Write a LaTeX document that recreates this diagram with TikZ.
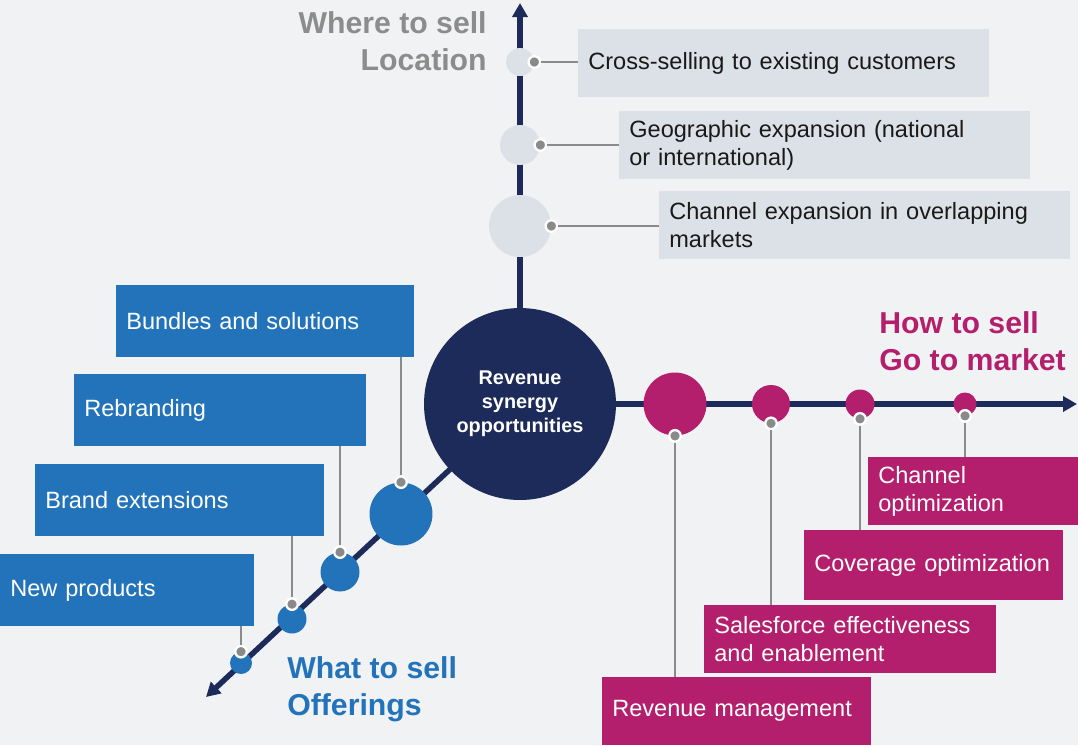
\documentclass[tikz,border=0pt]{standalone}
\usepackage{fontspec}
\setmainfont{Liberation Sans}
\usetikzlibrary{arrows.meta,positioning}

\definecolor{pagebg}{HTML}{F1F2F4}
\definecolor{axisnavy}{HTML}{1D2B5B}
\definecolor{offerblue}{HTML}{2273BA}
\definecolor{gtmpink}{HTML}{B31F6C}
\definecolor{placegray}{HTML}{DCE1E7}
\definecolor{leadgray}{HTML}{8A8A8A}
\definecolor{titlegray}{HTML}{8C8C8C}

\begin{document}
\begin{tikzpicture}[
  x=0.02cm, y=-0.02cm,
  font=\fontsize{13.4}{16}\selectfont,
  axisline/.style={draw=axisnavy, line width=0.11cm,
                   -{Triangle[length=0.28cm,width=0.3cm]}},
  ball/.style={circle, inner sep=0pt},
  whereball/.style={ball, fill=placegray},
  whatball/.style={ball, fill=offerblue},
  howball/.style={ball, fill=gtmpink},
  knob/.style={circle, fill=leadgray, draw=white, line width=1.3pt,
               inner sep=0pt, minimum size=0.23cm},
  leader/.style={draw=leadgray, line width=1.2pt},
  tag/.style={rectangle, anchor=west, inner xsep=0.2cm, inner ysep=0pt,
              align=left, minimum height=1.36cm},
  wheretag/.style={tag, fill=placegray, text=black!90, text width=7.82cm},
  whattag/.style={tag, fill=offerblue, text=white, minimum height=1.44cm},
  howtag/.style={tag, fill=gtmpink, text=white},
  heading/.style={font=\fontsize{17.2}{21}\selectfont\bfseries,
                  inner sep=0pt, align=left}
]
\useasboundingbox (0,0) rectangle (1078,745);
\fill[pagebg] (0,0) rectangle (1078,745);

% three axes out of the hub
\coordinate (hubc) at (520,404);
\coordinate (whereend) at (520,3);
\coordinate (howend) at (1077,404);
\coordinate (whatend) at (206,697);
\draw[axisline] (hubc) -- (whereend);
\draw[axisline] (hubc) -- (howend);
\draw[axisline] (hubc) -- (whatend);

% hub
\node[circle, fill=axisnavy, minimum size=3.84cm, text=white, align=center,
      font=\fontsize{11.3}{13.6}\selectfont\bfseries] (hub) at (hubc)
      {Revenue\\synergy\\opportunities};

% where to sell (up)
\node[whereball, minimum size=0.56cm] (where1) at (520,62) {};
\node[whereball, minimum size=0.8cm]  (where2) at (520,145) {};
\node[whereball, minimum size=1.24cm] (where3) at (520,226) {};
\node[wheretag] (crosssell)  at (578,63)  {Cross-selling to existing customers};
\node[wheretag] (geo)        at (619,145) {Geographic expansion (national\\or international)};
\node[wheretag] (channelexp) at (659,225) {Channel expansion in overlapping\\markets};
\node[knob] (where1k) at (where1.east) {};
\node[knob] (where2k) at (where2.east) {};
\node[knob] (where3k) at (where3.east) {};
\draw[leader] (where1k) -- (where1k -| crosssell.west);
\draw[leader] (where2k) -- (where2k -| geo.west);
\draw[leader] (where3k) -- (where3k -| channelexp.west);

% what to sell (down left)
\node[whatball, minimum size=1.26cm] (what1) at (401,514) {};
\node[whatball, minimum size=0.78cm] (what2) at (340,572) {};
\node[whatball, minimum size=0.58cm] (what3) at (292,619) {};
\node[whatball, minimum size=0.44cm] (what4) at (241,663) {};
\node[whattag, text width=5.56cm] (bundles)  at (116,321) {Bundles and solutions};
\node[whattag, text width=5.44cm] (rebrand)  at (74,410)  {Rebranding};
\node[whattag, text width=5.38cm] (brandext) at (35,500)  {Brand extensions};
\node[whattag, text width=4.68cm] (newprod)  at (0,590)   {New products};
\node[knob] (what1k) at (what1.north) {};
\node[knob] (what2k) at (what2.north) {};
\node[knob] (what3k) at (what3.north) {};
\node[knob] (what4k) at (what4.north) {};
\draw[leader] (what1k) -- (what1k |- bundles.south);
\draw[leader] (what2k) -- (what2k |- rebrand.south);
\draw[leader] (what3k) -- (what3k |- brandext.south);
\draw[leader] (what4k) -- (what4k |- newprod.south);

% how to sell (right)
\node[howball, minimum size=1.26cm] (how1) at (675,404) {};
\node[howball, minimum size=0.76cm] (how2) at (771,404) {};
\node[howball, minimum size=0.58cm] (how3) at (860,404) {};
\node[howball, minimum size=0.46cm] (how4) at (965,404) {};
\node[howtag, text width=3.9cm]  (chanopt)    at (868,491) {Channel\\optimization};
\node[howtag, text width=4.78cm, minimum height=1.4cm] (coverage) at (804,565) {Coverage optimization};
\node[howtag, text width=5.44cm] (salesforce) at (704,639) {Salesforce effectiveness\\and enablement};
\node[howtag, text width=4.98cm] (revmgmt)    at (602,711) {Revenue management};
\node[knob] (how1k) at (how1.south) {};
\node[knob] (how2k) at (how2.south) {};
\node[knob] (how3k) at (how3.south) {};
\node[knob] (how4k) at (how4.south) {};
\draw[leader] (how1k) -- (how1k |- revmgmt.north);
\draw[leader] (how2k) -- (how2k |- salesforce.north);
\draw[leader] (how3k) -- (how3k |- coverage.north);
\draw[leader] (how4k) -- (how4k |- chanopt.north);

% axis headings
\node[heading, text=titlegray, align=right, anchor=east] (wherehead) at (487,41) {Where to sell\\Location};
\node[heading, text=offerblue, anchor=west] (whathead) at (287,689) {What to sell\\Offerings};
\node[heading, text=gtmpink, anchor=west] (howhead) at (879,341) {How to sell\\Go to market};
\end{tikzpicture}
\end{document}
